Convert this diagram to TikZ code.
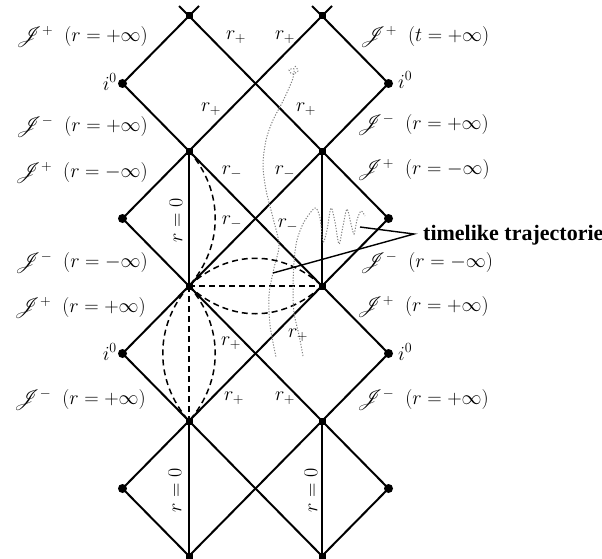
\RequirePackage{fix-cm}
\documentclass[tikz,border=0pt]{standalone}
\usepackage{fontspec}
\setmainfont{Liberation Serif}
\usepackage{mathrsfs}
\begin{document}
\tikzset{
 edge/.style={line width=2pt},
 dashc/.style={line width=1.5pt, dash pattern=on 6pt off 4pt},
 sq/.style={rectangle, fill, minimum size=7pt, inner sep=0pt},
 dotc/.style={circle, fill, minimum size=9pt, inner sep=0pt},
 lab/.style={inner sep=0pt, font=\fontsize{20}{24}\selectfont},
 txt/.style={inner sep=0pt, font=\fontsize{22}{27}\selectfont\bfseries},
 traj/.style={black!50, line width=1pt, dash pattern=on 1.2pt off 1.6pt},
 pointer/.style={line width=1.4pt},
}
\newcommand{\scri}[1]{\mathscr{J}^{#1}\hspace{0.55em}}
\begin{tikzpicture}[x=1pt,y=-1pt]
\useasboundingbox (0,0) rectangle (602,559);
% vertices
\node[sq] (L8) at (189,16) {};
\node[sq] (R8) at (322,16) {};
\node[sq] (L6) at (189,151) {};
\node[sq] (R6) at (322,151) {};
\node[sq] (L4) at (189,286) {};
\node[sq] (R4) at (322,286) {};
\node[sq] (L2) at (189,421) {};
\node[sq] (R2) at (322,421) {};
\node[sq] (L0) at (189,556) {};
\node[sq] (R0) at (322,556) {};
\node[dotc] (I7L) at (122.5,83.5) {};
\node[dotc] (I7R) at (388.5,83.5) {};
\node[dotc] (I5L) at (122.5,218.5) {};
\node[dotc] (I5R) at (388.5,218.5) {};
\node[dotc] (I3L) at (122.5,353.5) {};
\node[dotc] (I3R) at (388.5,353.5) {};
\node[dotc] (I1L) at (122.5,488.5) {};
\node[dotc] (I1R) at (388.5,488.5) {};
% solid lines
\foreach \a/\b in {8/6,6/4,4/2,2/0}{
  \pgfmathtruncatemacro{\m}{\a-1}
  \draw[edge] (L\a.center) -- (I\m L.center) -- (L\b.center);
  \draw[edge] (R\a.center) -- (I\m R.center) -- (R\b.center);
  \draw[edge] (L\a.center) -- (R\b.center);
  \draw[edge] (R\a.center) -- (L\b.center);
}
\draw[edge] (L6.center) -- (L4.center);
\draw[edge] (R6.center) -- (R4.center);
\draw[edge] (L2.center) -- (L0.center);
\draw[edge] (R2.center) -- (R0.center);
\coordinate (L8a) at (179,6); \coordinate (L8b) at (199,6);
\coordinate (R8a) at (312,6); \coordinate (R8b) at (332,6);
\draw[edge] (L8a) -- (L8.center) -- (L8b);
\draw[edge] (R8a) -- (R8.center) -- (R8b);
% dashed curves
\draw[dashc] (L6.center) .. controls +(35,40) and +(35,-40) .. (L4.center);
\draw[dashc] (L4.center) -- (R4.center);
\draw[dashc] (L4.center) .. controls +(40,-37) and +(-40,-37) .. (R4.center);
\draw[dashc] (L4.center) .. controls +(40,37) and +(-40,37) .. (R4.center);
\draw[dashc] (L4.center) -- (L2.center);
\draw[dashc] (L4.center) .. controls +(35,40) and +(35,-40) .. (L2.center);
\draw[dashc] (L4.center) .. controls +(-35,40) and +(-35,-40) .. (L2.center);
% trajectories
\draw[traj] plot[smooth] coordinates {(295,66) (298,71) (292,74) (289,70) (294,69) (293,78) (289,88) (282,103) (273,120) (266,140) (263,165) (266,190) (273,218) (279,245) (274,268) (269,295) (270,325) (276,357)};
\draw[traj] plot[smooth] coordinates {(303,356) (299,335) (294,313) (293,290) (294,262) (297,240) (304,222) (315,208) (320,218) (323,242) (327,230) (331,208) (335,222) (339,244) (343,226) (347,209) (351,224) (354,234) (357,220) (361,211) (365,216)};
% left labels
\node[lab, anchor=east] (tl1) at (148,37) {$\scri{+}(r=+\infty)$};
\node[lab, anchor=east] (il1) at (117,82) {$i^0$};
\node[lab, anchor=east] (tl2) at (148,127) {$\scri{-}(r=+\infty)$};
\node[lab, anchor=east] (tl3) at (148,173) {$\scri{+}(r=-\infty)$};
\node[lab, anchor=east] (tl4) at (148,263) {$\scri{-}(r=-\infty)$};
\node[lab, anchor=east] (tl5) at (146,308) {$\scri{+}(r=+\infty)$};
\node[lab, anchor=east] (il2) at (117,352) {$i^0$};
\node[lab, anchor=east] (tl6) at (146,400) {$\scri{-}(r=+\infty)$};
% right labels
\node[lab, anchor=west] (tr1) at (360,37) {$\scri{+}(t=+\infty)$};
\node[lab, anchor=west] (ir1) at (398,80) {$i^0$};
\node[lab, anchor=west] (tr2) at (357,125) {$\scri{-}(r=+\infty)$};
\node[lab, anchor=west] (tr3) at (357,170) {$\scri{+}(r=-\infty)$};
\node[lab, anchor=west] (tr4) at (360,263) {$\scri{-}(r=-\infty)$};
\node[lab, anchor=west] (tr5) at (357,307) {$\scri{+}(r=+\infty)$};
\node[lab, anchor=west] (ir2) at (398,352) {$i^0$};
\node[lab, anchor=west] (tr6) at (357,400) {$\scri{-}(r=+\infty)$};
% r labels
\node[lab] (rp1) at (236,37) {$r_+$};
\node[lab] (rp2) at (285,37) {$r_+$};
\node[lab] (rp3) at (211,109) {$r_+$};
\node[lab] (rp4) at (306,109) {$r_+$};
\node[lab] (rm1) at (232,172) {$r_-$};
\node[lab] (rm2) at (285,172) {$r_-$};
\node[lab] (rm3) at (232,222) {$r_-$};
\node[lab] (rm4) at (288,225) {$r_-$};
\node[lab] (rp5) at (231,343) {$r_+$};
\node[lab] (rp6) at (298,335) {$r_+$};
\node[lab] (rp7) at (234,398) {$r_+$};
\node[lab] (rp8) at (285,398) {$r_+$};
% r = 0
\node[lab, rotate=90] (z1) at (176,220) {$r=0$};
\node[lab, rotate=90] (z2) at (175,490) {$r=0$};
\node[lab, rotate=90] (z3) at (311,490) {$r=0$};
% annotation
\node[txt, anchor=base west] (tt) at (423,240) {timelike trajectorie};
\coordinate (tp) at (414,234);
\coordinate (ta) at (360,227);
\coordinate (tb) at (273,273);
\draw[pointer] (ta) -- (tp) -- (tb);
\end{tikzpicture}
\end{document}
